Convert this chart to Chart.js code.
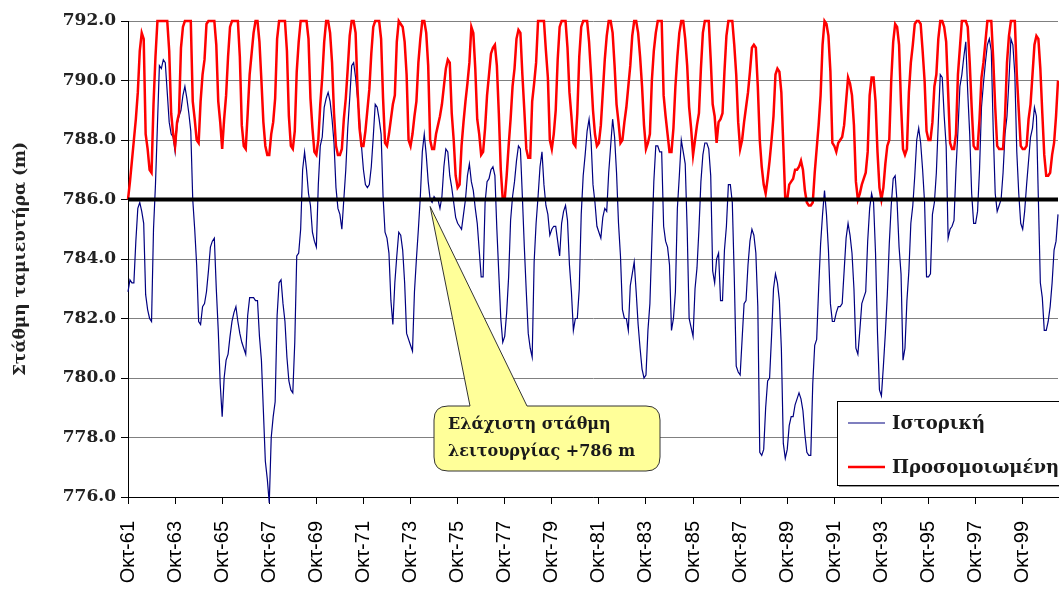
<!DOCTYPE html>
<html>
<head>
<meta charset="utf-8">
<script src="https://cdn.jsdelivr.net/npm/chart.js@4.4.1/dist/chart.umd.min.js"></script>
<style>
  html, body { margin: 0; padding: 0; background: #fff; overflow: hidden; }
</style>
</head>
<body>
<canvas id="levelChart" width="1059" height="590"></canvas>
<script>
// Monthly reservoir level, hydrological years starting in October 1961
const startYear = 1961;
const monthNames = ["Οκτ", "Νοε", "Δεκ", "Ιαν", "Φεβ", "Μαρ", "Απρ", "Μαϊ", "Ιουν", "Ιουλ", "Αυγ", "Σεπ"];
const minOperatingLevel = 786;
const seriesNames = ["Ιστορική", "Προσομοιωμένη"];

// Historical level (m), one row per hydrological year
const historical = [
  782.9, 783.3, 783.2, 783.2, 784.6, 785.7, 785.9, 785.6, 785.2, 782.8, 782.3, 782.0,
  781.9, 785.0, 786.5, 788.5, 790.5, 790.4, 790.7, 790.6, 789.6, 788.6, 788.2, 788.1,
  787.6, 788.5, 788.8, 789.0, 789.5, 789.8, 789.4, 788.9, 788.3, 786.0, 785.0, 783.8,
  781.9, 781.8, 782.4, 782.5, 782.9, 783.6, 784.4, 784.6, 784.7, 783.0, 781.6, 779.8,
  778.7, 780.0, 780.6, 780.8, 781.4, 781.9, 782.2, 782.4, 781.9, 781.5, 781.2, 781.0,
  780.8, 782.1, 782.7, 782.7, 782.7, 782.6, 782.6, 781.4, 780.6, 778.9, 777.2, 776.6,
  775.8, 778.0, 778.7, 779.2, 782.1, 783.2, 783.3, 782.5, 781.9, 780.7, 779.9, 779.6,
  779.5, 781.2, 784.1, 784.2, 785.0, 787.0, 787.6, 787.0, 786.2, 785.8, 784.9, 784.6,
  784.4, 786.5, 787.8, 788.1, 789.1, 789.4, 789.6, 789.3, 788.7, 787.9, 786.4, 785.7,
  785.5, 785.0, 786.0, 787.0, 788.4, 789.4, 790.5, 790.6, 790.1, 789.4, 788.7, 787.8,
  787.0, 786.5, 786.4, 786.5, 787.1, 788.1, 789.2, 789.1, 788.7, 788.2, 786.1, 784.9,
  784.7, 784.2, 782.6, 781.8, 783.2, 784.1, 784.9, 784.8, 784.3, 783.2, 781.5, 781.3,
  781.1, 780.9, 782.9, 784.0, 785.0, 786.1, 787.6, 788.2, 787.5, 786.6, 786.0, 785.9,
  786.1, 786.0, 786.0, 785.7, 786.1, 787.1, 787.7, 787.6, 786.8, 786.4, 785.9, 785.4,
  785.2, 785.1, 785.0, 785.5, 786.0, 786.8, 787.2, 786.6, 786.3, 785.7, 785.2, 784.3,
  783.4, 783.4, 785.9, 786.6, 786.7, 787.0, 787.1, 786.8, 785.0, 783.5, 782.0, 781.2,
  781.4, 782.2, 783.4, 785.3, 786.1, 786.6, 787.3, 787.8, 787.7, 786.1, 784.4, 782.9,
  781.5, 781.0, 780.7, 783.9, 785.2, 786.1, 787.1, 787.6, 786.5, 785.8, 785.5, 784.8,
  785.0, 785.1, 785.1, 784.6, 784.1, 785.2, 785.6, 785.8, 785.3, 783.8, 782.9, 781.6,
  782.0, 782.0, 783.0, 785.5, 786.8, 787.5, 788.3, 788.7, 788.0, 786.5, 785.9, 785.1,
  784.9, 784.7, 785.4, 785.7, 785.6, 786.9, 787.8, 788.7, 788.1, 786.9, 785.2, 784.1,
  782.3, 782.0, 782.0, 781.6, 783.1, 783.5, 783.9, 782.9, 781.8, 781.0, 780.3, 780.0,
  780.1, 781.6, 782.5, 784.6, 786.6, 787.8, 787.8, 787.6, 787.6, 785.1, 784.6, 784.4,
  783.8, 781.6, 782.0, 782.9, 785.7, 786.8, 788.0, 787.6, 787.2, 785.0, 782.0, 781.7,
  781.4, 783.0, 783.7, 785.0, 786.6, 787.5, 787.9, 787.9, 787.7, 786.8, 783.6, 783.2,
  784.0, 784.2, 782.6, 782.6, 784.3, 785.1, 786.5, 786.5, 785.9, 783.4, 780.4, 780.2,
  780.1, 781.3, 782.5, 782.6, 783.8, 784.6, 785.0, 784.8, 784.2, 782.4, 777.5, 777.4,
  777.6, 779.0, 779.9, 780.0, 781.4, 783.0, 783.5, 783.2, 782.6, 781.0, 777.8, 777.3,
  777.6, 778.4, 778.7, 778.7, 779.1, 779.3, 779.5, 779.3, 778.9, 778.1, 777.5, 777.4,
  777.4, 779.8, 781.1, 781.3, 783.0, 784.5, 785.5, 786.3, 785.5, 784.3, 782.5, 781.9,
  781.9, 782.2, 782.4, 782.4, 782.5, 783.6, 784.7, 785.2, 784.8, 784.2, 783.0, 781.0,
  780.8, 781.6, 782.5, 782.7, 782.9, 784.6, 785.7, 786.2, 785.9, 784.2, 781.5, 779.6,
  779.4, 780.4, 781.5, 782.8, 784.5, 785.8, 786.7, 786.8, 785.9, 784.4, 783.5, 780.6,
  781.0, 782.6, 783.6, 785.2, 785.8, 786.8, 788.0, 788.4, 787.9, 787.0, 785.9, 783.4,
  783.4, 783.5, 785.5, 785.9, 786.9, 788.6, 790.2, 790.1, 788.8, 787.8, 784.7, 785.0,
  785.1, 785.3, 787.0, 788.3, 789.8, 790.2, 790.8, 791.3, 789.6, 788.2, 786.2, 785.2,
  785.2, 785.6, 787.0, 789.1, 789.9, 790.6, 791.2, 791.4, 791.0, 788.3, 786.2, 785.6,
  785.8, 786.0, 786.9, 788.2, 788.8, 790.0, 791.4, 791.2, 790.2, 787.6, 786.2, 785.2,
  785.0, 785.6, 786.5, 787.3, 788.1, 788.4, 789.1, 788.8, 786.0, 783.2, 782.7, 781.6,
  781.6, 781.9, 782.4, 783.2, 784.3, 784.6, 785.5
];

// Simulated level (m), one row per hydrological year
const simulated = [
  786.0, 786.6, 787.3, 788.0, 788.7, 789.6, 791.0, 791.6, 791.4, 788.2, 787.7, 787.0,
  786.9, 789.2, 790.8, 792.0, 792.0, 792.0, 792.0, 792.0, 792.0, 791.0, 788.9, 788.2,
  787.8, 788.6, 788.9, 791.1, 791.8, 792.0, 792.0, 792.0, 792.0, 789.3, 788.7, 788.0,
  787.9, 789.3, 790.2, 790.7, 791.9, 792.0, 792.0, 792.0, 792.0, 791.2, 789.3, 788.6,
  787.7, 788.7, 789.5, 790.8, 791.8, 792.0, 792.0, 792.0, 792.0, 790.8, 788.5, 787.8,
  787.7, 788.9, 790.2, 790.9, 791.6, 792.0, 792.0, 791.3, 790.0, 788.6, 787.8, 787.5,
  787.5, 788.2, 788.6, 789.4, 791.4, 792.0, 792.0, 792.0, 792.0, 791.0, 788.8, 787.8,
  787.7, 788.3, 790.3, 791.3, 792.0, 792.0, 792.0, 792.0, 791.4, 789.4, 788.4, 787.6,
  787.5, 788.0, 789.2, 790.1, 791.3, 792.0, 792.0, 791.6, 790.6, 788.9, 787.8, 787.5,
  787.5, 787.7, 788.7, 789.4, 790.4, 791.5, 792.0, 792.0, 791.6, 789.7, 788.4, 787.8,
  787.8, 788.3, 789.0, 789.7, 790.9, 791.8, 792.0, 792.0, 792.0, 791.4, 789.4, 787.9,
  787.8, 788.2, 788.7, 789.2, 789.5, 791.3, 792.0, 791.9, 791.8, 791.3, 790.2, 788.0,
  787.8, 788.2, 788.8, 789.3, 790.6, 791.4, 792.0, 792.0, 791.6, 790.5, 788.0, 787.7,
  787.7, 788.2, 788.5, 788.8, 789.2, 789.8, 790.4, 790.7, 790.6, 788.9, 788.0, 786.8,
  786.4, 786.5, 787.8, 788.6, 789.3, 789.9, 790.6, 791.8, 791.6, 790.4, 788.7, 788.2,
  787.5, 787.6, 788.4, 789.5, 790.2, 790.9, 791.1, 791.2, 790.5, 788.9, 787.0, 786.0,
  786.0, 786.8, 787.8, 788.7, 789.8, 790.4, 791.4, 791.7, 791.6, 790.2, 789.0, 787.7,
  787.4, 787.4, 789.3, 789.9, 790.6, 792.0, 792.0, 792.0, 792.0, 791.0, 790.1, 788.0,
  787.7, 788.2, 789.0, 790.7, 791.8, 792.0, 792.0, 792.0, 791.1, 789.6, 788.8, 787.9,
  787.8, 788.9, 790.8, 791.8, 792.0, 792.0, 792.0, 791.3, 790.2, 789.0, 788.2, 787.8,
  787.9, 788.5, 789.6, 790.7, 791.5, 792.0, 792.0, 791.6, 790.5, 789.2, 788.6, 787.9,
  788.0, 788.6, 789.1, 789.8, 790.5, 791.5, 792.0, 792.0, 791.6, 790.8, 789.8, 788.5,
  787.7, 787.9, 788.2, 790.0, 791.0, 791.6, 792.0, 792.0, 792.0, 789.5, 788.8, 788.2,
  787.6, 787.6, 788.4, 789.8, 790.8, 791.6, 792.0, 792.0, 791.4, 790.5, 789.1, 788.4,
  787.5, 788.0, 788.5, 788.9, 790.4, 791.6, 792.0, 792.0, 792.0, 790.7, 789.2, 788.8,
  787.9, 788.6, 788.7, 788.9, 790.3, 791.5, 792.0, 792.0, 792.0, 791.2, 790.2, 788.6,
  787.7, 788.0, 788.6, 789.1, 789.6, 790.3, 791.1, 791.2, 791.1, 789.8, 788.0, 787.1,
  786.5, 786.2, 786.7, 787.3, 788.0, 788.8, 790.2, 790.4, 790.3, 789.6, 787.8, 786.0,
  786.0, 786.5, 786.6, 786.7, 787.0, 787.0, 787.1, 787.3, 787.0, 786.3, 785.9, 785.8,
  785.8, 785.9, 786.9, 787.7, 788.5, 789.5, 791.2, 792.0, 791.9, 791.5, 790.3, 787.9,
  787.8, 787.6, 787.9, 788.0, 788.1, 788.5, 789.3, 790.1, 789.9, 789.5, 788.5, 786.6,
  786.0, 786.2, 786.5, 786.7, 786.9, 787.6, 789.5, 790.1, 790.1, 789.3, 787.6, 786.4,
  786.0, 786.4, 787.2, 787.8, 788.0, 790.0, 791.3, 791.9, 791.8, 791.2, 789.2, 787.7,
  787.5, 787.7, 789.6, 790.6, 791.2, 791.9, 792.0, 792.0, 791.9, 791.0, 790.0, 788.3,
  788.0, 788.0, 788.6, 789.8, 790.2, 791.4, 792.0, 792.0, 791.8, 791.3, 789.6, 787.9,
  787.7, 787.7, 788.2, 790.2, 791.1, 792.0, 792.0, 792.0, 791.8, 790.6, 789.1, 787.8,
  787.7, 787.7, 788.7, 790.1, 790.6, 791.3, 792.0, 792.0, 792.0, 790.7, 789.1, 787.8,
  787.7, 787.7, 787.7, 788.8, 790.6, 791.5, 792.0, 792.0, 792.0, 790.2, 789.0, 787.8,
  787.7, 787.7, 787.8, 788.7, 789.2, 790.2, 791.2, 791.5, 791.4, 790.4, 788.9, 787.5,
  786.8, 786.8, 786.9, 787.5, 787.9, 788.8, 790.0
];

// month labels like "Οκτ-61"
const monthLabels = historical.map((v, i) => {
  const year = startYear + Math.floor((i + 9) / 12);
  return monthNames[i % 12] + "-" + String(year % 100).padStart(2, "0");
});

const legendFont = "bold 18px 'DejaVu Serif'";
const calloutFont = "bold 16px 'DejaVu Serif'";

// min level line, callout and the boxed legend
const levelMarks = {
  id: "levelMarks",
  afterDatasetsDraw(chart) {
    const { ctx, chartArea, scales: { y } } = chart;
    const yl = y.getPixelForValue(minOperatingLevel);
    ctx.save();
    ctx.strokeStyle = "#000";
    ctx.lineWidth = 4;
    ctx.beginPath();
    ctx.moveTo(chartArea.left, yl);
    ctx.lineTo(chartArea.right, yl);
    ctx.stroke();
    ctx.restore();
  },
  afterDraw(chart) {
    const { ctx, scales: { x, y } } = chart;
    ctx.save();

    // callout box with pointer to the min level line
    const L = 434, T = 406, R = 660, B = 471, r = 14;
    const tipX = x.getPixelForValue(154), tipY = y.getPixelForValue(minOperatingLevel) + 7;
    ctx.beginPath();
    ctx.moveTo(L + r, T);
    ctx.lineTo(470, T);
    ctx.lineTo(tipX, tipY);
    ctx.lineTo(527, T);
    ctx.lineTo(R - r, T);
    ctx.quadraticCurveTo(R, T, R, T + r);
    ctx.lineTo(R, B - r);
    ctx.quadraticCurveTo(R, B, R - r, B);
    ctx.lineTo(L + r, B);
    ctx.quadraticCurveTo(L, B, L, B - r);
    ctx.lineTo(L, T + r);
    ctx.quadraticCurveTo(L, T, L + r, T);
    ctx.closePath();
    ctx.fillStyle = "#ffff99";
    ctx.fill();
    ctx.strokeStyle = "#333";
    ctx.lineWidth = 1;
    ctx.stroke();

    ctx.fillStyle = "#1a1a1a";
    ctx.font = calloutFont;
    ctx.textAlign = "left";
    ctx.textBaseline = "alphabetic";
    ctx.fillText("Ελάχιστη στάθμη", 448, 429);
    ctx.fillText("λειτουργίας +786 m", 448, 456);

    // legend box (runs past the right edge like the original)
    ctx.fillStyle = "#999";
    ctx.fillRect(839, 403, 240, 84);
    ctx.fillStyle = "#fff";
    ctx.fillRect(837, 401, 240, 84);
    ctx.strokeStyle = "#000";
    ctx.lineWidth = 1;
    ctx.strokeRect(837.5, 401.5, 240, 84);

    const ds = chart.data.datasets;
    const rows = [423, 467];
    ds.forEach((d, k) => {
      ctx.strokeStyle = d.borderColor;
      ctx.lineWidth = d.borderWidth;
      ctx.beginPath();
      ctx.moveTo(848, rows[k]);
      ctx.lineTo(885, rows[k]);
      ctx.stroke();
      ctx.fillStyle = "#1a1a1a";
      ctx.font = legendFont;
      ctx.fillText(d.label, 892, rows[k] + 6);
    });
    ctx.restore();
  }
};

new Chart(document.getElementById("levelChart"), {
  type: "line",
  data: {
    labels: monthLabels,
    datasets: [
      {
        label: seriesNames[0],
        data: historical,
        borderColor: "#000080",
        borderWidth: 1.2,
        pointRadius: 0,
        tension: 0,
        clip: false,
        order: 2
      },
      {
        label: seriesNames[1],
        data: simulated,
        borderColor: "#ff0000",
        borderWidth: 2.5,
        pointRadius: 0,
        tension: 0,
        clip: false,
        order: 1
      }
    ]
  },
  options: {
    responsive: false,
    animation: false,
    layout: { padding: { top: 21, right: 1, left: 0, bottom: 0 } },
    plugins: {
      legend: { display: false },
      tooltip: { enabled: false }
    },
    scales: {
      x: {
        afterFit: (scale) => {
          scale.height = 93;
          scale.paddingLeft = 0;
          scale.paddingRight = 0;
        },
        afterBuildTicks: (scale) => {
          scale.ticks = scale.ticks.filter(t => t.value % 24 === 0);
        },
        ticks: {
          autoSkip: false,
          minRotation: 90,
          maxRotation: 90,
          padding: 17,
          color: "#000",
          font: { family: "'Liberation Sans'", size: 20 },
          callback: function (value) { return this.getLabelForValue(value); }
        },
        grid: { drawOnChartArea: false, tickLength: 7, color: "#000" },
        border: { color: "#000", width: 1 }
      },
      y: {
        min: 776,
        max: 792,
        afterFit: (scale) => { scale.width = 128; },
        ticks: {
          stepSize: 2,
          padding: 5,
          color: "#222",
          font: { family: "'DejaVu Serif'", weight: "bold", size: 17 },
          callback: (v) => v.toFixed(1)
        },
        grid: { color: "#808080", lineWidth: 1, tickLength: 7, tickColor: "#000" },
        border: { color: "#000", width: 1 },
        title: {
          display: true,
          text: "Στάθμη ταμιευτήρα (m)",
          color: "#222",
          font: { family: "'DejaVu Serif'", weight: "bold", size: 17 },
          padding: { top: 10, bottom: 0 }
        }
      }
    }
  },
  plugins: [levelMarks]
});
</script>
</body>
</html>
